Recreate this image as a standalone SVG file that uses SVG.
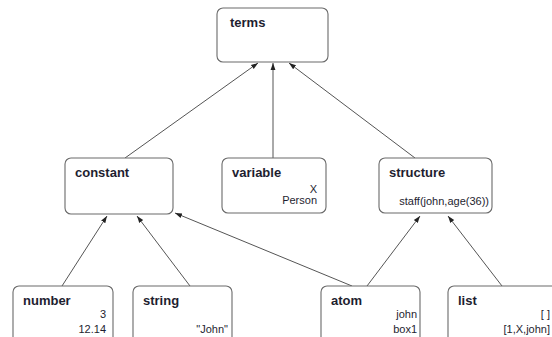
<svg xmlns="http://www.w3.org/2000/svg" width="552" height="337" viewBox="0 0 552 337">
  <style>
    .box { fill: #ffffff; stroke: #6a6a6a; stroke-width: 1.1; }
    .title { font-family: "Liberation Sans", Arial, sans-serif; font-weight: bold; font-size: 13px; fill: #1e1e30; }
    .val { font-family: "Liberation Sans", Arial, sans-serif; font-size: 11px; fill: #1e1e30; text-anchor: end; }
    .edge { stroke: #555555; stroke-width: 1; fill: none; marker-end: url(#arrow); }
  </style>
  <defs>
    <marker id="arrow" viewBox="0 0 10 10" refX="10" refY="5" markerWidth="7" markerHeight="7" orient="auto" markerUnits="userSpaceOnUse">
      <path d="M0,1.5 L10,5 L0,8.5 z" fill="#222222"/>
    </marker>
  </defs>
  <rect width="552" height="337" fill="#ffffff"/>

  <g id="connectors">
    <line class="edge" x1="125" y1="158" x2="258" y2="63"/>
    <line class="edge" x1="273" y1="158" x2="273" y2="63"/>
    <line class="edge" x1="415" y1="158" x2="289" y2="63"/>
    <line class="edge" x1="62" y1="286" x2="107" y2="216"/>
    <line class="edge" x1="190" y1="286" x2="137" y2="216"/>
    <line class="edge" x1="352" y1="286" x2="175" y2="213"/>
    <line class="edge" x1="367" y1="286" x2="420" y2="216"/>
    <line class="edge" x1="502" y1="286" x2="448" y2="216"/>
  </g>

  <g id="terms">
    <rect class="box" x="217" y="8" width="111" height="54" rx="6"/>
    <text class="title" x="230" y="27">terms</text>
  </g>

  <g id="constant">
    <rect class="box" x="65" y="158" width="108" height="56" rx="6"/>
    <text class="title" x="75" y="177">constant</text>
  </g>

  <g id="variable">
    <rect class="box" x="222" y="158" width="104" height="55" rx="6"/>
    <text class="title" x="232" y="177">variable</text>
    <text class="val" x="317" y="193">X</text>
    <text class="val" x="317" y="204">Person</text>
  </g>

  <g id="structure">
    <rect class="box" x="379" y="158" width="113" height="55" rx="6"/>
    <text class="title" x="389" y="177">structure</text>
    <text class="val" x="489" y="205">staff(john,age(36))</text>
  </g>

  <g id="number">
    <rect class="box" x="13" y="286" width="100" height="70" rx="6"/>
    <text class="title" x="23" y="305">number</text>
    <text class="val" x="106" y="318">3</text>
    <text class="val" x="106" y="333">12.14</text>
  </g>

  <g id="string">
    <rect class="box" x="133" y="286" width="99" height="70" rx="6"/>
    <text class="title" x="143" y="305">string</text>
    <text class="val" x="228" y="333">"John"</text>
  </g>

  <g id="atom">
    <rect class="box" x="321" y="286" width="99" height="70" rx="6"/>
    <text class="title" x="331" y="305">atom</text>
    <text class="val" x="417" y="318">john</text>
    <text class="val" x="417" y="333">box1</text>
  </g>

  <!-- list node runs past the right edge of the canvas -->
  <g id="list">
    <rect class="box" x="448" y="286" width="120" height="70" rx="6"/>
    <text class="title" x="458" y="305">list</text>
    <text class="val" x="550" y="318">[ ]</text>
    <text class="val" x="550" y="333">[1,X,john]</text>
  </g>
</svg>
